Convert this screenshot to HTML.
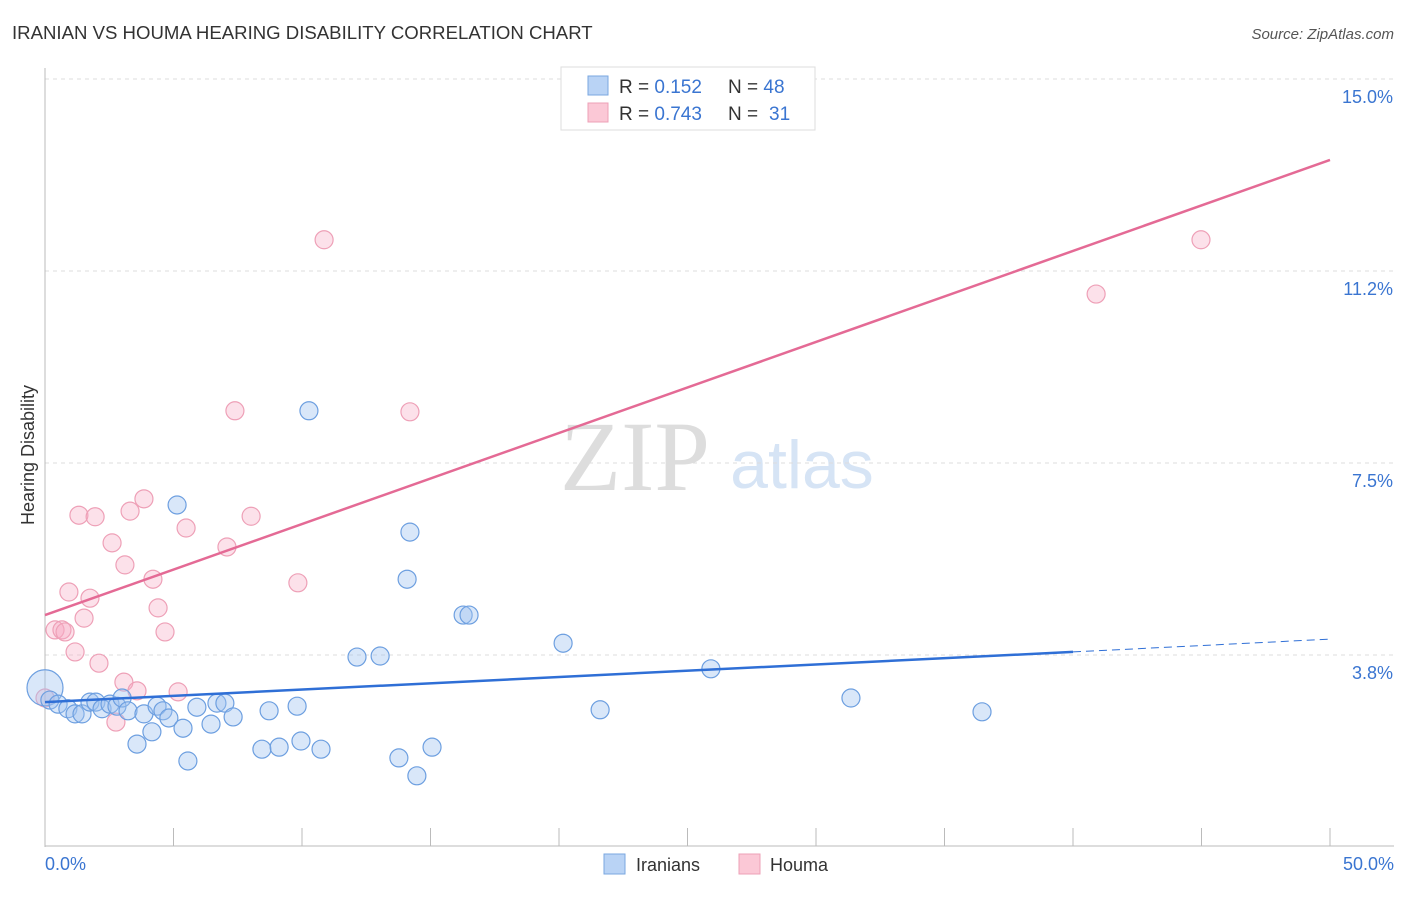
<!DOCTYPE html>
<html><head><meta charset="utf-8"><style>
body{margin:0;background:#fff;font-family:"Liberation Sans",sans-serif}
svg text{font-family:"Liberation Sans",sans-serif}
svg text.serif{font-family:"Liberation Serif",serif}
</style></head><body>
<svg id="c" width="1406" height="892">
<text x="12" y="39" font-size="18.6" fill="#333">IRANIAN VS HOUMA HEARING DISABILITY CORRELATION CHART</text>
<text x="1394" y="39" font-size="15" fill="#555" font-style="italic" text-anchor="end">Source: ZipAtlas.com</text>
<text class="serif" x="635" y="490" font-size="100" fill="#ddd" text-anchor="middle">ZIP</text>
<text x="802" y="488" font-size="68" fill="#d6e4f5" text-anchor="middle">atlas</text>
<g id="grid"></g><g id="axes"></g><g id="pts"></g><g id="trend"></g>
<text transform="translate(34,455) rotate(-90)" font-size="18" fill="#333" text-anchor="middle">Hearing Disability</text>
<text x="45" y="870" font-size="18" fill="#3a75d1">0.0%</text>
<text x="1394" y="870" font-size="18" fill="#3a75d1" text-anchor="end">50.0%</text>
<g>
<rect x="561" y="67" width="254" height="63" fill="#fff" stroke="#ddd"/>
<rect x="588" y="76" width="20" height="19" fill="#b9d3f5" stroke="#7aa7e0"/>
<rect x="588" y="103" width="20" height="19" fill="#fbc8d6" stroke="#eea0b7"/>
<text x="619" y="93" font-size="19" fill="#333">R = <tspan fill="#3a75d1">0.152</tspan><tspan x="728">N = </tspan><tspan fill="#3a75d1">48</tspan></text>
<text x="619" y="120" font-size="19" fill="#333">R = <tspan fill="#3a75d1">0.743</tspan><tspan x="728">N = </tspan><tspan fill="#3a75d1" x="769">31</tspan></text>
</g>
<g>
<rect x="604" y="854" width="21" height="20" fill="#b9d3f5" stroke="#7aa7e0"/>
<text x="636" y="871" font-size="18" fill="#333">Iranians</text>
<rect x="739" y="854" width="21" height="20" fill="#fbc8d6" stroke="#eea0b7"/>
<text x="770" y="871" font-size="18" fill="#333">Houma</text>
</g>
</svg>
<script>
const yTicks=[3.75,7.5,11.25,15];
const yTickLabels=["3.8%","7.5%","11.2%","15.0%"];
const xTicks=[0,5,10,15,20,25,30,35,40,45,50];
const iranX=[0,0.19,0.51,0.89,1.17,1.44,1.75,1.98,2.22,2.53,2.80,3.00,3.23,3.58,3.85,4.16,4.36,4.59,4.82,5.14,5.37,5.56,5.91,6.46,6.69,7.00,7.32,8.44,8.72,9.11,9.81,9.96,10.27,10.74,12.14,13.04,13.77,14.09,14.20,14.47,15.06,16.27,16.50,20.16,21.60,25.91,31.36,36.46];
const iranY=[3.11,2.87,2.79,2.70,2.60,2.60,2.83,2.83,2.70,2.79,2.75,2.91,2.66,2.01,2.60,2.25,2.75,2.66,2.52,6.68,2.32,1.68,2.73,2.40,2.81,2.81,2.54,1.91,2.66,1.95,2.75,2.07,8.52,1.91,3.71,3.73,1.74,5.23,6.15,1.39,1.95,4.53,4.53,3.98,2.68,3.48,2.91,2.64];
const houmaX=[0,0.39,0.66,0.78,0.93,1.17,1.32,1.52,1.75,1.95,2.10,2.61,2.76,3.07,3.11,3.31,3.58,3.85,4.20,4.40,4.67,5.18,5.49,7.08,7.39,8.02,9.84,10.86,14.20,40.90,44.98];
const houmaY=[2.91,4.24,4.24,4.20,4.98,3.81,6.48,4.47,4.86,6.45,3.59,5.94,2.44,3.22,5.51,6.56,3.05,6.80,5.23,4.67,4.20,3.03,6.23,5.86,8.52,6.46,5.16,11.86,8.50,10.80,11.86];
const iranTrend=[[0,2.83],[40,3.81]];
const iranTrendExt=[[40,3.81],[50,4.06]];
const houmaTrend=[[0,4.53],[50,13.42]];
const X=v=>45+v*1285/50, Y=v=>847-v*192/3.75;
const NS="http://www.w3.org/2000/svg";
function mk(p,t,a){const e=document.createElementNS(NS,t);for(const k in a)e.setAttribute(k,a[k]);document.getElementById(p).appendChild(e);return e;}
yTicks.forEach((t,i)=>{
 let l=mk('grid','line',{x1:45,x2:1394,y1:Y(t),y2:Y(t),stroke:'#ddd','stroke-dasharray':'4,4'});
 
 
 let tx=mk('grid','text',{x:1393,y:Y(t)+24,'font-size':18,fill:'#3a75d1','text-anchor':'end'});
 tx.textContent=yTickLabels[i];
 
 
});
let ya=mk('axes','line',{x1:45,x2:45,y1:68,y2:847,stroke:'#bbb'});


let xa=mk('axes','line',{x1:45,x2:1394,y1:846,y2:846,stroke:'#bbb'});


xTicks.forEach(t=>{let l=mk('axes','line',{x1:X(t),x2:X(t),y1:828,y2:846,stroke:'#bbb'});
 
 });
houmaX.forEach((x,i)=>{let c=mk('pts','circle',{cx:X(x),cy:Y(houmaY[i]),r:9,fill:'rgba(246,170,194,0.35)',stroke:'#eea0b7','stroke-width':1.2});
 
 });
iranX.forEach((x,i)=>{let c=mk('pts','circle',{cx:X(x),cy:Y(iranY[i]),r:i==0?18:9,fill:'rgba(160,196,240,0.4)',stroke:'#6d9fe0','stroke-width':1.2});
 
 });
let t1=mk('trend','line',{x1:X(iranTrend[0][0]),y1:Y(iranTrend[0][1]),x2:X(iranTrend[1][0]),y2:Y(iranTrend[1][1]),stroke:'#2f6fd6','stroke-width':2.5});


let t2=mk('trend','line',{x1:X(iranTrendExt[0][0]),y1:Y(iranTrendExt[0][1]),x2:X(iranTrendExt[1][0]),y2:Y(iranTrendExt[1][1]),stroke:'#2f6fd6','stroke-width':1,'stroke-dasharray':'8,5'});


let t3=mk('trend','line',{x1:X(houmaTrend[0][0]),y1:Y(houmaTrend[0][1]),x2:X(houmaTrend[1][0]),y2:Y(houmaTrend[1][1]),stroke:'#e46a95','stroke-width':2.5});


</script>
</body></html>
